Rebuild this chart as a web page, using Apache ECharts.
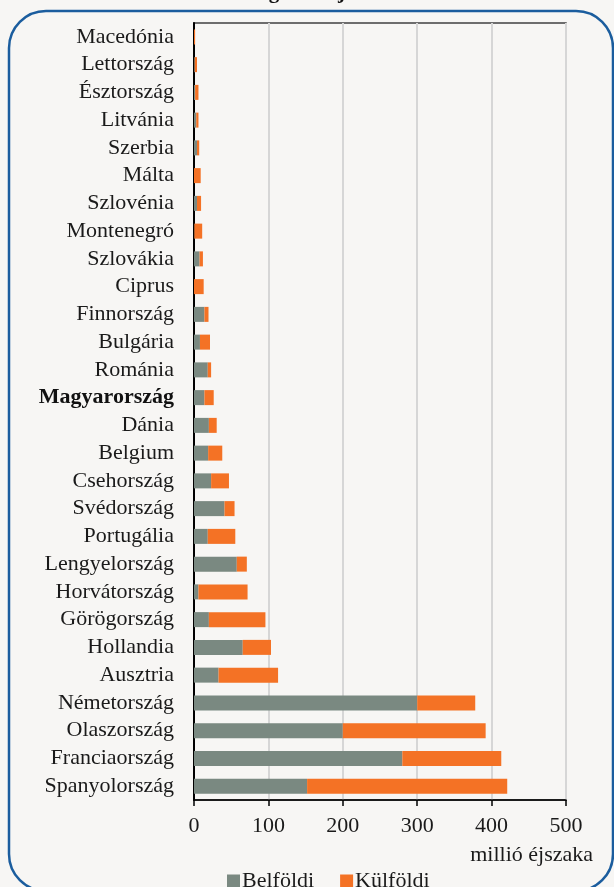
<!DOCTYPE html>
<html><head><meta charset="utf-8">
<script src="https://cdn.jsdelivr.net/npm/echarts@6/dist/echarts.min.js"></script>
<style>html,body{margin:0;padding:0;background:#f7f6f4;}#c{width:614px;height:887px;}</style>
</head><body><div id="c"></div>
<script>
const categories = ["Macedónia","Lettország","Észtország","Litvánia","Szerbia","Málta","Szlovénia","Montenegró","Szlovákia","Ciprus","Finnország","Bulgária","Románia","Magyarország","Dánia","Belgium","Csehország","Svédország","Portugália","Lengyelország","Horvátország","Görögország","Hollandia","Ausztria","Németország","Olaszország","Franciaország","Spanyolország"];
const belfoldi = [0, 1, 1.5, 3, 4, 0, 4, 0.5, 7.5, 0, 14, 8, 18.5, 14, 20, 19, 23, 41, 18.5, 57.5, 6, 20, 65.5, 33, 300, 200, 280, 152];
const kulfoldi = [1.5, 3, 4.5, 3, 3, 9, 5.5, 10.5, 4.5, 13, 5.5, 13.5, 4.5, 12.5, 10.5, 19, 24, 13.5, 37, 13.5, 66, 76, 38, 80, 78, 192, 133, 269];
const xTicks = [0, 100, 200, 300, 400, 500];
const seriesNames = ["Belföldi", "Külföldi"];
const titleText = "Szállásforgalom éjszakában";
const axisName = "millió éjszaka";

const FONT = '"Liberation Serif", "DejaVu Serif", serif';
const chart = echarts.init(document.getElementById('c'), null, {renderer: 'canvas'});
chart.setOption({
  backgroundColor: '#f7f6f4',
  animation: false,
  textStyle: {fontFamily: FONT},
  graphic: [
    {type: 'rect', shape: {x: 9, y: 11, width: 604, height: 880, r: 37}, style: {fill: 'none', stroke: '#1b5d9e', lineWidth: 2.5}, z: 0},
    {type: 'text', x: 180, y: 3, style: {text: titleText, font: 'bold 21px ' + FONT, fill: '#111', align: 'left', verticalAlign: 'bottom'}},
    {type: 'text', x: 593, y: 855, style: {text: axisName, font: '22px ' + FONT, fill: '#1a1a1a', align: 'right', verticalAlign: 'middle'}}
  ],
  legend: {
    data: seriesNames, left: 222, top: 865, icon: 'rect', itemWidth: 13, itemHeight: 13, itemGap: 26,
    textStyle: {fontFamily: FONT, fontSize: 22, color: '#1a1a1a', padding: [0, 0, 0, -3]}
  },
  grid: {left: 194, top: 23, right: 48, bottom: 87, show: true, borderColor: '#404040', borderWidth: 1.5, backgroundColor: 'transparent'},
  xAxis: {
    type: 'value', min: 0, max: 500, interval: 100,
    axisLine: {show: true, lineStyle: {color: '#000', width: 1.5}},
    axisTick: {show: true, length: 6, lineStyle: {color: '#000', width: 1.5}},
    splitLine: {show: true, lineStyle: {color: '#d6d6d6', width: 2}},
    axisLabel: {fontFamily: FONT, fontSize: 22, color: '#1a1a1a', margin: 15,
      formatter: v => xTicks.includes(v) ? String(v) : ''}
  },
  yAxis: {
    type: 'category', inverse: true, data: categories,
    axisLine: {show: true, lineStyle: {color: '#000', width: 2}},
    axisTick: {show: false},
    axisLabel: {fontFamily: FONT, fontSize: 22, color: '#1a1a1a', margin: 20, interval: 0,
      formatter: v => v === 'Magyarország' ? '{b|' + v + '}' : v,
      rich: {b: {fontFamily: FONT, fontSize: 22, fontWeight: 'bold', color: '#111'}}}
  },
  series: [
    {name: seriesNames[0], type: 'bar', stack: 'a', data: belfoldi, barWidth: 15,
      itemStyle: {color: '#7a8981'}},
    {name: seriesNames[1], type: 'bar', stack: 'a', data: kulfoldi, barWidth: 15,
      itemStyle: {color: '#f47225'}}
  ]
});
</script></body></html>
